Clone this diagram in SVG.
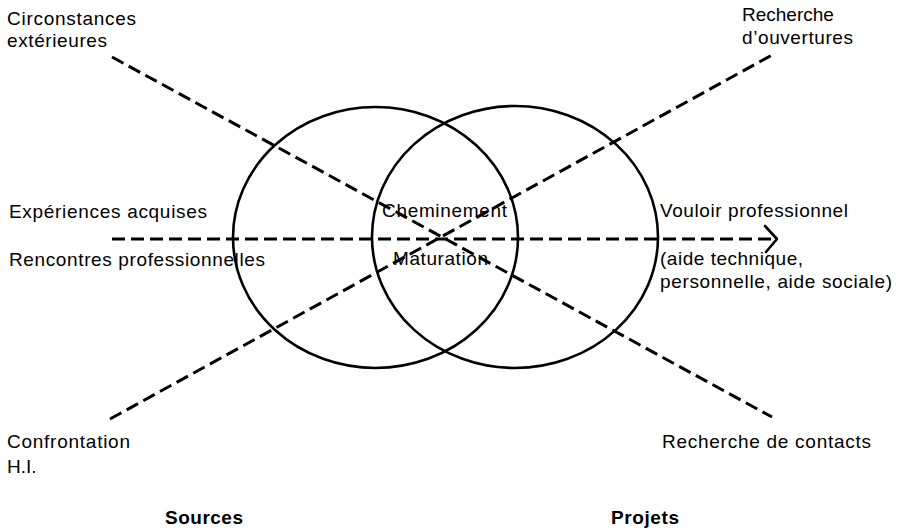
<svg xmlns="http://www.w3.org/2000/svg" width="903" height="530" viewBox="0 0 903 530">
<style>
  text { font-family: "Liberation Sans", Arial, Helvetica, sans-serif; font-size: 19px; fill: #000; }
  .b { font-weight: bold; }
  .circ { fill: none; stroke: #000; stroke-width: 2.6; }
  .dash { fill: none; stroke: #000; stroke-width: 3; stroke-dasharray: 13 6; }
  .head { fill: none; stroke: #000; stroke-width: 2.6; stroke-linecap: round; stroke-linejoin: round; }
</style>
<rect width="903" height="530" fill="#fff"/>
<g id="circles">
  <ellipse id="circle-sources" class="circ" cx="375.5" cy="237.5" rx="142.5" ry="130.5"/>
  <ellipse id="circle-projets" class="circ" cx="515" cy="237" rx="143" ry="131"/>
</g>
<g id="connectors">
  <line class="dash" x1="112" y1="57" x2="772" y2="417"/>
  <line class="dash" x1="110" y1="419" x2="772" y2="55"/>
  <line class="dash" x1="112" y1="239" x2="775" y2="239"/>
  <polyline class="head" points="765,226 777,239 766,252"/>
</g>
<g id="n-circonstances"><text x="7" y="25" textLength="129" lengthAdjust="spacing">Circonstances</text><text x="7" y="47" textLength="100" lengthAdjust="spacing">extérieures</text></g>
<g id="n-ouvertures"><text x="742" y="21">Recherche</text><text x="742" y="44" textLength="111" lengthAdjust="spacing">d’ouvertures</text></g>
<g id="n-experiences"><text x="9" y="218" textLength="198" lengthAdjust="spacing">Expériences acquises</text></g>
<g id="n-rencontres"><text x="9" y="266" textLength="256" lengthAdjust="spacing">Rencontres professionnelles</text></g>
<g id="n-cheminement"><text x="382" y="217" textLength="125" lengthAdjust="spacing">Cheminement</text></g>
<g id="n-maturation"><text x="393" y="265" textLength="95" lengthAdjust="spacing">Maturation</text></g>
<g id="n-vouloir"><text x="660" y="217" textLength="188" lengthAdjust="spacing">Vouloir professionnel</text></g>
<g id="n-aide"><text x="660" y="265" textLength="143" lengthAdjust="spacing">(aide technique,</text><text x="660" y="288" textLength="232" lengthAdjust="spacing">personnelle, aide sociale)</text></g>
<g id="n-confrontation"><text x="7" y="448" textLength="123" lengthAdjust="spacing">Confrontation</text><text x="7" y="473">H.I.</text></g>
<g id="n-contacts"><text x="662" y="448" textLength="209" lengthAdjust="spacing">Recherche de contacts</text></g>
<g id="n-sources"><text class="b" x="165" y="524" textLength="78" lengthAdjust="spacing">Sources</text></g>
<g id="n-projets"><text class="b" x="611" y="524" textLength="68" lengthAdjust="spacing">Projets</text></g>
</svg>
